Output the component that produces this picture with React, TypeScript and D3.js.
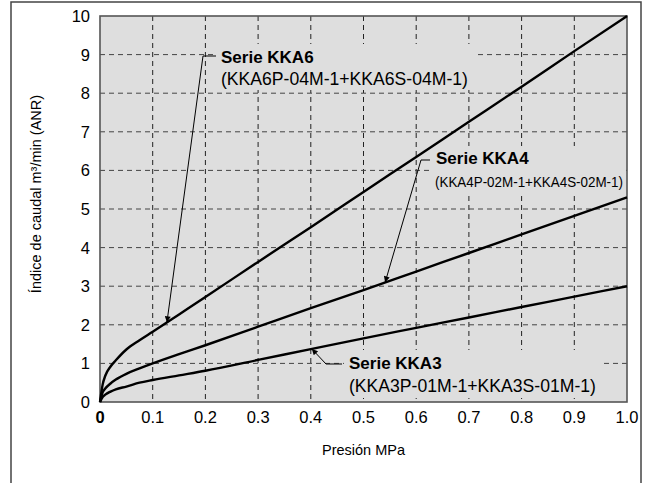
import React from "react";
import * as d3 from "d3";

const pressure = [0, 0.005, 0.01, 0.02, 0.03, 0.05, 0.075, 0.1, 0.15, 0.2, 0.3, 0.4, 0.5, 0.6, 0.7, 0.8, 0.9, 1.0];
const kka6 = [0, 0.45, 0.68, 0.92, 1.08, 1.36, 1.6, 1.82, 2.27, 2.72, 3.63, 4.53, 5.44, 6.35, 7.26, 8.17, 9.09, 10];
const kka4 = [0, 0.25, 0.35, 0.48, 0.58, 0.73, 0.87, 1.0, 1.24, 1.47, 1.95, 2.43, 2.9, 3.38, 3.86, 4.34, 4.82, 5.3];
const kka3 = [0, 0.13, 0.19, 0.27, 0.33, 0.4, 0.5, 0.57, 0.69, 0.81, 1.09, 1.37, 1.65, 1.92, 2.19, 2.46, 2.73, 3.0];

const xTicks = [0, 0.1, 0.2, 0.3, 0.4, 0.5, 0.6, 0.7, 0.8, 0.9, 1.0];
const xTickLabels = ["0", "0.1", "0.2", "0.3", "0.4", "0.5", "0.6", "0.7", "0.8", "0.9", "1.0"];
const yTicks = [0, 1, 2, 3, 4, 5, 6, 7, 8, 9, 10];

const seriesNames = ["Serie KKA6", "Serie KKA4", "Serie KKA3"];
const seriesModels = ["(KKA6P-04M-1+KKA6S-04M-1)", "(KKA4P-02M-1+KKA4S-02M-1)", "(KKA3P-01M-1+KKA3S-01M-1)"];
const arrowTargetX = [0.127, 0.541, 0.402];

const xTitle = "Presión MPa";
const yTitle = "Índice de caudal m³/min (ANR)";

export default function App() {
  const W = 647, H = 483;
  const L = 100, R = 627, T = 16, B = 402;
  const x = d3.scaleLinear().domain([0, 1]).range([L, R]);
  const y = d3.scaleLinear().domain([0, 10]).range([B, T]);
  const series = [kka6, kka4, kka3];
  const line = d3.line<number>()
    .x((_, i) => x(pressure[i]))
    .y((v) => y(v))
    .curve(d3.curveMonotoneX);
  const interp = (vals: number[], px: number) => {
    const i = d3.bisectRight(pressure, px) - 1;
    const j = Math.min(i + 1, pressure.length - 1);
    if (i === j) return vals[i];
    const t = (px - pressure[i]) / (pressure[j] - pressure[i]);
    return vals[i] + t * (vals[j] - vals[i]);
  };
  const font = "'Liberation Sans', Arial, Helvetica, sans-serif";

  const labels = [
    { tx: 221, ty1: 63, ty2: 85, hx1: 216, hx2: 203, hy: 56, bg: [214, 44, 262, 46], narrow: false },
    { tx: 436, ty1: 164, ty2: 187, hx1: 430, hx2: 421, hy: 160, bg: [430, 146, 196, 46], narrow: true },
    { tx: 349, ty1: 369, ty2: 392, hx1: 342, hx2: 326, hy: 364, bg: [344, 350, 258, 48], narrow: false },
  ];

  return (
    <svg width={W} height={H} style={{ position: "absolute", left: 0, top: 0, background: "#fff" }} fontFamily={font}>
      <defs>
        <marker id="arr" viewBox="0 0 10 10" refX="10" refY="5" markerWidth="9" markerHeight="6" markerUnits="userSpaceOnUse" orient="auto">
          <path d="M0,0 L10,5 L0,10 z" fill="#000" />
        </marker>
      </defs>
      <rect x={11} y={2} width={630} height={520} fill="none" stroke="#444" strokeWidth={1.5} />
      <rect x={L} y={T} width={R - L} height={B - T} fill="#dedede" />
      {xTicks.slice(1, -1).map((t) => (
        <line key={"gx" + t} x1={x(t)} x2={x(t)} y1={T} y2={B} stroke="#222" strokeWidth={1} strokeDasharray="5,4" />
      ))}
      {yTicks.slice(1, -1).map((t) => (
        <line key={"gy" + t} x1={L} x2={R} y1={y(t)} y2={y(t)} stroke="#444" strokeWidth={1} strokeDasharray="5,4" />
      ))}
      {labels.map((lb, i) => (
        <rect key={"bg" + i} x={lb.bg[0]} y={lb.bg[1]} width={lb.bg[2]} height={lb.bg[3]} fill="#dedede" />
      ))}
      <rect x={L} y={T} width={R - L} height={B - T} fill="none" stroke="#555" strokeWidth={1.6} />
      {series.map((s, i) => (
        <path key={"s" + i} d={line(s) || ""} fill="none" stroke="#000" strokeWidth={2.4} />
      ))}
      {labels.map((lb, i) => {
        const ax = x(arrowTargetX[i]);
        const ay = y(interp(series[i], arrowTargetX[i]));
        return (
          <g key={"lb" + i}>
            <polyline points={`${lb.hx1},${lb.hy} ${lb.hx2},${lb.hy} ${ax},${ay}`} fill="none" stroke="#000" strokeWidth={1} markerEnd="url(#arr)" />
            <text x={lb.tx} y={lb.ty1} fontSize={17} fontWeight="bold" fill="#000">{seriesNames[i]}</text>
            {lb.narrow ? (
              <text x={lb.tx - 1} y={lb.ty2} fontSize={14} fill="#000" textLength={188} lengthAdjust="spacingAndGlyphs">{seriesModels[i]}</text>
            ) : (
              <text x={lb.tx} y={lb.ty2} fontSize={17.6} fill="#000">{seriesModels[i]}</text>
            )}
          </g>
        );
      })}
      {yTicks.map((t) => (
        <text key={"yt" + t} x={90} y={y(t) + 6} fontSize={16.5} textAnchor="end" fill="#000">{t}</text>
      ))}
      {xTicks.map((t, i) => (
        <text key={"xt" + t} x={x(t)} y={423} fontSize={16.5} textAnchor="middle" fontWeight={i === 0 ? "bold" : "normal"} fill="#000">{xTickLabels[i]}</text>
      ))}
      <text x={(L + R) / 2} y={455} fontSize={14.5} textAnchor="middle" fill="#000">{xTitle}</text>
      <text transform={`translate(41,${(T + B) / 2 - 15}) rotate(-90)`} fontSize={14.5} textAnchor="middle" fill="#000">{yTitle}</text>
    </svg>
  );
}
